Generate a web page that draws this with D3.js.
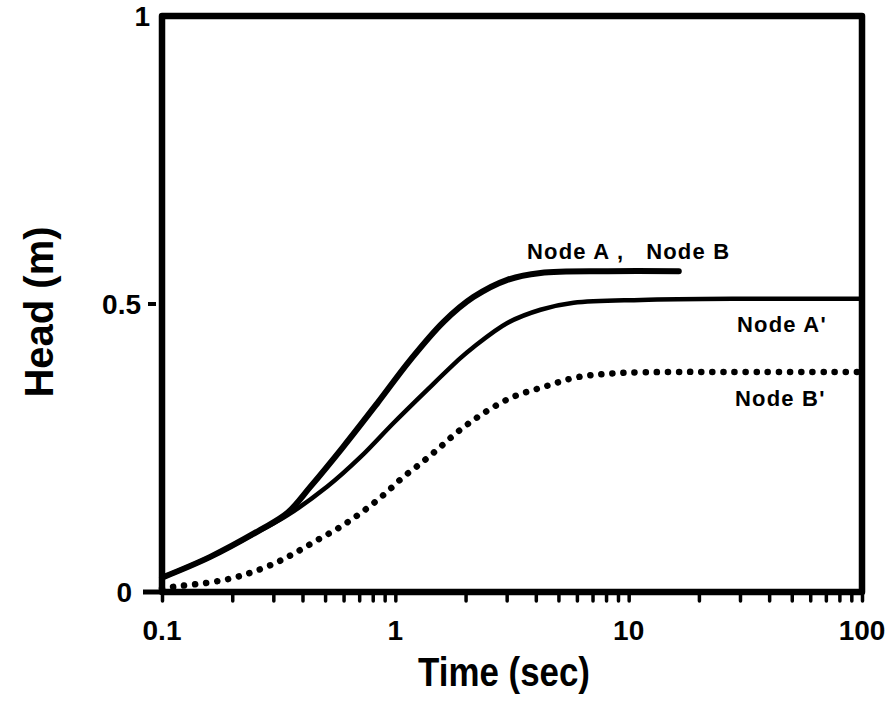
<!DOCTYPE html>
<html>
<head>
<meta charset="utf-8">
<script src="https://cdn.jsdelivr.net/npm/d3@7"></script>
<style>
  html, body { margin: 0; padding: 0; background: #fff; }
  svg { display: block; }
  text { font-family: "Liberation Sans", Arial, sans-serif; font-weight: bold; fill: #000; }
</style>
</head>
<body>
<svg id="chart" width="888" height="712"></svg>
<script>
// ---- data ----
const timeA  = [0.1, 0.161, 0.264, 0.344, 0.431, 0.598, 0.838, 1.16, 1.61, 2.16, 3.02, 4.19, 8.13, 16.4];
const headA  = [0.025, 0.061, 0.108, 0.137, 0.182, 0.252, 0.328, 0.403, 0.469, 0.512, 0.542, 0.554, 0.557, 0.557];

const timeA2 = [0.1, 0.161, 0.264, 0.344, 0.511, 0.708, 0.98, 1.37, 1.90, 2.16, 3.02, 4.19, 5.81, 11.3, 30.3, 100];
const headA2 = [0.025, 0.061, 0.107, 0.133, 0.183, 0.234, 0.293, 0.351, 0.406, 0.425, 0.467, 0.490, 0.502, 0.507, 0.509, 0.509];

const timeB2 = [0.1, 0.117, 0.156, 0.200, 0.246, 0.305, 0.372, 0.462, 0.581, 0.721, 0.887, 1.07, 1.31, 1.56, 1.85, 2.32, 3.12, 4.32, 6.04, 8.97, 15.6, 30.3, 100];
const headB2 = [0.006, 0.010, 0.016, 0.024, 0.035, 0.050, 0.068, 0.090, 0.113, 0.139, 0.168, 0.198, 0.226, 0.252, 0.278, 0.307, 0.337, 0.356, 0.373, 0.380, 0.382, 0.382, 0.382];

const xTickValues = [0.1, 1, 10, 100];
const xTickLabels = ["0.1", "1", "10", "100"];
const yTickValues = [0, 0.5, 1];
const yTickLabels = ["0", "0.5", "1"];
const curveLabels = ["Node A ,   Node B", "Node A'", "Node B'"];
const xTitle = "Time (sec)";
const yTitle = "Head (m)";

// ---- layout ----
const svg = d3.select("#chart");
const pLeft = 162, pRight = 862, pTop = 16, pBottom = 592;

const x = d3.scaleLog().domain([0.1, 100]).range([pLeft, pRight]);
const y = d3.scaleLinear().domain([0, 1]).range([pBottom, pTop]);

// minor/major ticks on bottom axis (pointing down)
const minorTicks = [];
[0.1, 1, 10].forEach(d => { for (let k = 1; k <= 9; k++) minorTicks.push(d * k); });
minorTicks.push(100);

const xAxis = d3.axisBottom(x).tickValues(minorTicks).tickSize(9).tickFormat("");
const gx = svg.append("g").attr("transform", `translate(0,${pBottom})`).call(xAxis);
gx.select(".domain").remove();
gx.selectAll(".tick line").attr("stroke", "#000").attr("stroke-width", 3.5).attr("stroke-linecap", "round");

// x tick labels
svg.append("g").selectAll("text").data(xTickValues).join("text")
  .attr("x", d => x(d)).attr("y", 640)
  .attr("text-anchor", "middle").attr("font-size", 28)
  .text((d, i) => xTickLabels[i]);

// y tick labels
svg.append("g").selectAll("text").data(yTickValues).join("text")
  .attr("x", (d, i) => [132, 141, 150][i]).attr("y", d => y(d) + 10)
  .attr("text-anchor", "end").attr("font-size", 28)
  .text((d, i) => yTickLabels[i]);

// y tick at 0.5 and extension at 0
svg.append("line").attr("x1", 148).attr("x2", 156).attr("y1", y(0.5)).attr("y2", y(0.5))
  .attr("stroke", "#000").attr("stroke-width", 4);
svg.append("line").attr("x1", 143).attr("x2", pLeft).attr("y1", y(0)).attr("y2", y(0))
  .attr("stroke", "#000").attr("stroke-width", 5);

// frame
svg.append("rect").attr("x", pLeft).attr("y", pTop).attr("width", pRight - pLeft).attr("height", pBottom - pTop)
  .attr("fill", "none").attr("stroke", "#000").attr("stroke-width", 6.5).attr("stroke-linejoin", "round");

// curves
const line = d3.line().x(d => x(d[0])).y(d => y(d[1])).curve(d3.curveCatmullRom.alpha(0.5));
const zip = (a, b) => a.map((v, i) => [v, b[i]]);

svg.append("path").datum(zip(timeA2, headA2)).attr("d", line)
  .attr("fill", "none").attr("stroke", "#000").attr("stroke-width", 4.5);
svg.append("path").datum(zip(timeA, headA)).attr("d", line)
  .attr("fill", "none").attr("stroke", "#000").attr("stroke-width", 6).attr("stroke-linecap", "round");
svg.append("path").datum(zip(timeB2, headB2)).attr("d", line)
  .attr("fill", "none").attr("stroke", "#000").attr("stroke-width", 6.5)
  .attr("stroke-linecap", "round").attr("stroke-dasharray", "0.1 11");

// curve labels
svg.append("text").attr("x", 527).attr("y", 259).attr("font-size", 22).attr("letter-spacing", 1.2)
  .style("white-space", "pre").text(curveLabels[0]);
svg.append("text").attr("x", 737).attr("y", 332).attr("font-size", 22).attr("letter-spacing", 1.2).text(curveLabels[1]);
svg.append("text").attr("x", 735).attr("y", 406).attr("font-size", 22).attr("letter-spacing", 1.2).text(curveLabels[2]);

// axis titles
svg.append("text").attr("x", 504).attr("y", 686).attr("text-anchor", "middle").attr("font-size", 40)
  .attr("textLength", 172).attr("lengthAdjust", "spacingAndGlyphs").text(xTitle);
svg.append("text").attr("transform", "translate(53,312) rotate(-90)").attr("text-anchor", "middle")
  .attr("font-size", 40).text(yTitle);
</script>
</body>
</html>
